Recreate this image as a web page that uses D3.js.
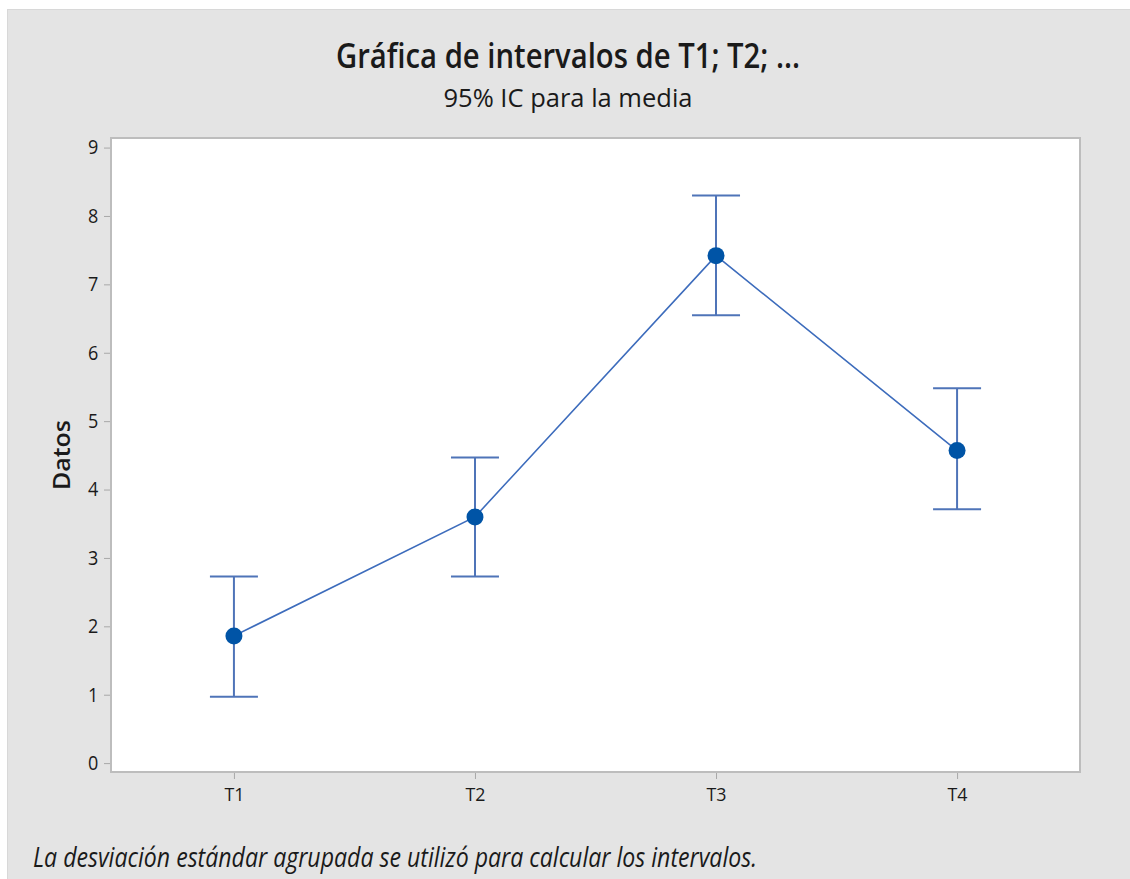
<!DOCTYPE html>
<html>
<head>
<meta charset="utf-8">
<script src="https://cdn.jsdelivr.net/npm/d3@7"></script>
<style>
  html, body { margin: 0; padding: 0; background: #ffffff; }
  svg { display: block; }
</style>
</head>
<body>
<svg id="chart" width="1130" height="879"></svg>
<script>
// Interval plot: group means with 95% confidence intervals
const categories = ["T1", "T2", "T3", "T4"];
const means = [1.86, 3.60, 7.42, 4.57];
const lowerCI = [0.97, 2.73, 6.55, 3.71];
const upperCI = [2.73, 4.47, 8.30, 5.48];
const yTicks = [0, 1, 2, 3, 4, 5, 6, 7, 8, 9];

const titleText = "Gráfica de intervalos de T1; T2; ...";
const subtitleText = "95% IC para la media";
const yLabelText = "Datos";
const footnoteText = "La desviación estándar agrupada se utilizó para calcular los intervalos.";

const W = 1130, H = 879;
const frame = { left: 111, right: 1080, top: 138, bottom: 772 };
const font = "'Open Sans', 'Noto Sans', sans-serif";

const svg = d3.select("#chart");

// outer panel
svg.append("rect").attr("x", 7).attr("y", 9).attr("width", W - 7).attr("height", H - 9)
  .attr("fill", "#e4e4e4");
svg.append("line").attr("x1", 7).attr("x2", W).attr("y1", 9.5).attr("y2", 9.5)
  .attr("stroke", "#d8d8d8").attr("stroke-width", 1);
svg.append("line").attr("x1", 7.5).attr("x2", 7.5).attr("y1", 9).attr("y2", H)
  .attr("stroke", "#d8d8d8").attr("stroke-width", 1);

// data region
svg.append("rect")
  .attr("x", frame.left).attr("y", frame.top)
  .attr("width", frame.right - frame.left).attr("height", frame.bottom - frame.top)
  .attr("fill", "#ffffff").attr("stroke", "#bdbdbd").attr("stroke-width", 2);

const x = d3.scalePoint().domain(categories)
  .range([frame.left, frame.right]).padding(0.51);
const y = d3.scaleLinear().domain([-0.13, 9.14]).range([frame.bottom, frame.top]);

// y axis
const yAxis = svg.append("g").attr("transform", `translate(${frame.left - 1},0)`)
  .call(d3.axisLeft(y).tickValues(yTicks).tickSize(6).tickPadding(5));
yAxis.select(".domain").remove();
yAxis.selectAll(".tick line").attr("stroke", "#a8a8a8");
yAxis.selectAll(".tick text").attr("font-family", font).attr("font-size", 20)
  .attr("font-weight", 500).attr("fill", "#1a1a1a")
  .attr("transform", "scale(0.9,1)").attr("x", -13);

// x axis
const xAxis = svg.append("g").attr("transform", `translate(0,${frame.bottom + 1})`)
  .call(d3.axisBottom(x).tickSize(6).tickPadding(9));
xAxis.select(".domain").remove();
xAxis.selectAll(".tick line").attr("stroke", "#a8a8a8");
xAxis.selectAll(".tick text").attr("font-family", font).attr("font-size", 19)
  .attr("font-weight", 500).attr("fill", "#1a1a1a")
  .attr("textLength", 20).attr("lengthAdjust", "spacingAndGlyphs");

// intervals
const capHalf = 24;
const iv = svg.append("g").attr("stroke", "#4f74b8").attr("stroke-width", 2).attr("fill", "none");
categories.forEach((c, i) => {
  const cx = x(c);
  iv.append("line").attr("x1", cx).attr("x2", cx)
    .attr("y1", y(upperCI[i])).attr("y2", y(lowerCI[i]));
  iv.append("line").attr("x1", cx - capHalf).attr("x2", cx + capHalf)
    .attr("y1", y(upperCI[i])).attr("y2", y(upperCI[i]));
  iv.append("line").attr("x1", cx - capHalf).attr("x2", cx + capHalf)
    .attr("y1", y(lowerCI[i])).attr("y2", y(lowerCI[i]));
});

// connecting line through the means
const line = d3.line().x((d, i) => x(categories[i])).y(d => y(d));
svg.append("path").datum(means).attr("d", line)
  .attr("fill", "none").attr("stroke", "#3d6cbc").attr("stroke-width", 1.6);

// mean markers
svg.append("g").selectAll("circle").data(means).join("circle")
  .attr("cx", (d, i) => x(categories[i])).attr("cy", d => y(d))
  .attr("r", 8.5).attr("fill", "#0054a6");

// titles
svg.append("text").attr("x", 568).attr("y", 68).attr("text-anchor", "middle")
  .attr("font-family", font).attr("font-size", 34).attr("font-weight", 600)
  .attr("fill", "#1a1a1a")
  .attr("textLength", 464).attr("lengthAdjust", "spacingAndGlyphs")
  .text(titleText);
svg.append("text").attr("x", 568).attr("y", 107).attr("text-anchor", "middle")
  .attr("font-family", font).attr("font-size", 25)
  .attr("fill", "#1a1a1a")
  .attr("textLength", 249).attr("lengthAdjust", "spacingAndGlyphs")
  .text(subtitleText);

// y-axis label
svg.append("text").attr("transform", "translate(70,455) rotate(-90)")
  .attr("text-anchor", "middle")
  .attr("font-family", font).attr("font-size", 24).attr("font-weight", 600)
  .attr("fill", "#1a1a1a")
  .attr("textLength", 70).attr("lengthAdjust", "spacingAndGlyphs")
  .text(yLabelText);

// footnote
svg.append("text").attr("x", 33).attr("y", 867)
  .attr("font-family", font).attr("font-size", 27).attr("font-style", "italic")
  .attr("fill", "#1a1a1a")
  .attr("textLength", 724).attr("lengthAdjust", "spacingAndGlyphs")
  .text(footnoteText);
</script>
</body>
</html>
